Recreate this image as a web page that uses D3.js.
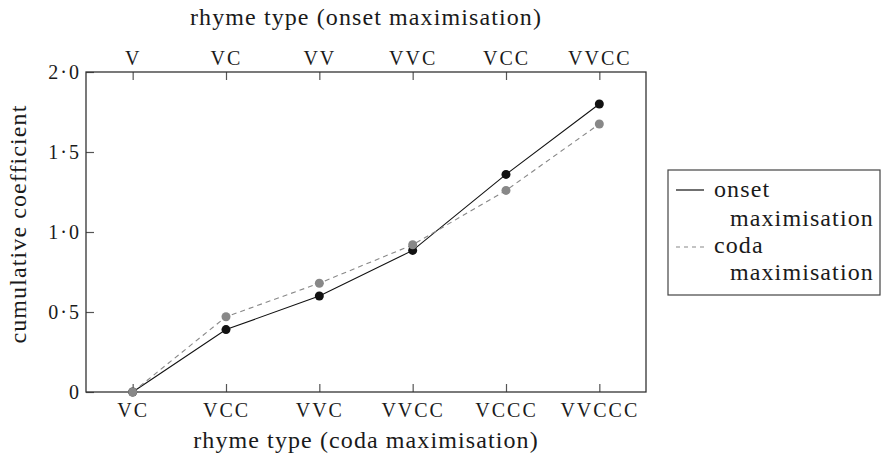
<!DOCTYPE html>
<html>
<head>
<meta charset="utf-8">
<title>Cumulative coefficient by rhyme type</title>
<script src="https://cdn.jsdelivr.net/npm/d3@7"></script>
<style>
  body { margin: 0; background: #fff; }
</style>
</head>
<body>
<div id="chart"></div>
<script>
// categories (bottom = coda maximisation, top = onset maximisation)
const codaTypes = ['VC', 'VCC', 'VVC', 'VVCC', 'VCCC', 'VVCCC'];
const onsetTypes = ['V', 'VC', 'VV', 'VVC', 'VCC', 'VVCC'];

// cumulative coefficients
const onsetValues = [0, 0.39, 0.60, 0.885, 1.36, 1.80];
const codaValues = [0, 0.47, 0.68, 0.92, 1.26, 1.675];

const yTicks = [0, 0.5, 1, 1.5, 2];
const yTickLabels = ['0', '0·5', '1·0', '1·5', '2·0'];

const W = 885, H = 464;
const margin = { top: 72, right: 239, bottom: 72, left: 86 };
const width = W - margin.left - margin.right,
      height = H - margin.top - margin.bottom;
const serif = "'Liberation Serif'";

const svg = d3.select('#chart').append('svg')
    .attr('width', W)
    .attr('height', H);

const g = svg.append('g')
    .attr('transform', 'translate(' + margin.left + ',' + margin.top + ')');

// both axes share the same positions
const x = d3.scalePoint()
    .domain(d3.range(codaTypes.length))
    .range([0, width])
    .padding(0.5);

const y = d3.scaleLinear()
    .domain([0, 2])
    .range([height, 0]);

// axes, ticks pointing inward
const leftAxis = g.append('g')
    .call(d3.axisLeft(y).tickValues(yTicks)
      .tickFormat((d, i) => yTickLabels[i])
      .tickSizeInner(-8).tickSizeOuter(0).tickPadding(5));

const bottomAxis = g.append('g')
    .attr('transform', 'translate(0,' + height + ')')
    .call(d3.axisBottom(x).tickFormat(i => codaTypes[i])
      .tickSizeInner(-8).tickSizeOuter(0).tickPadding(11));

const topAxis = g.append('g')
    .call(d3.axisTop(x).tickFormat(i => onsetTypes[i])
      .tickSizeInner(-8).tickSizeOuter(0).tickPadding(7));

[leftAxis, bottomAxis, topAxis].forEach(a => {
  a.selectAll('.domain').remove();
  a.selectAll('.tick line').attr('stroke', '#555').attr('stroke-width', 1.2);
  a.selectAll('.tick text')
      .attr('fill', '#1a1a1a')
      .style('font-family', serif)
      .style('font-size', '20px')
      .style('letter-spacing', '2px');
});

// frame
g.append('rect')
    .attr('x', 0).attr('y', 0)
    .attr('width', width).attr('height', height)
    .attr('fill', 'none')
    .attr('stroke', '#333')
    .attr('stroke-width', 1.3);

// lines
const line = d3.line()
    .x((d, i) => x(i))
    .y(d => y(d));

g.append('path')
    .datum(onsetValues)
    .attr('fill', 'none')
    .attr('stroke', '#111')
    .attr('stroke-width', 1.1)
    .attr('d', line);

g.append('path')
    .datum(codaValues)
    .attr('fill', 'none')
    .attr('stroke', '#888')
    .attr('stroke-width', 1.1)
    .attr('stroke-dasharray', '5,4')
    .attr('d', line);

g.append('g').selectAll('circle')
    .data(onsetValues)
  .enter().append('circle')
    .attr('cx', (d, i) => x(i))
    .attr('cy', d => y(d))
    .attr('r', 4.5)
    .attr('fill', '#111');

g.append('g').selectAll('circle')
    .data(codaValues)
  .enter().append('circle')
    .attr('cx', (d, i) => x(i))
    .attr('cy', d => y(d))
    .attr('r', 4.5)
    .attr('fill', '#888');

function bigText(sel) {
  return sel.attr('fill', '#1a1a1a')
      .style('font-family', serif)
      .style('font-size', '24px')
      .style('letter-spacing', '1.1px');
}

// axis titles
svg.append('text')
    .attr('x', margin.left + width / 2)
    .attr('y', 25)
    .attr('text-anchor', 'middle')
    .call(bigText)
    .text('rhyme type (onset maximisation)');

svg.append('text')
    .attr('x', margin.left + width / 2)
    .attr('y', 448)
    .attr('text-anchor', 'middle')
    .call(bigText)
    .text('rhyme type (coda maximisation)');

svg.append('text')
    .attr('transform', 'translate(26,224) rotate(-90)')
    .attr('text-anchor', 'middle')
    .call(bigText)
    .text('cumulative coefficient');

// legend
const legend = svg.append('g')
    .attr('transform', 'translate(668,170)');

legend.append('rect')
    .attr('width', 212).attr('height', 125)
    .attr('fill', '#fff')
    .attr('stroke', '#444')
    .attr('stroke-width', 1.2);

legend.append('line')
    .attr('x1', 8).attr('x2', 36)
    .attr('y1', 20).attr('y2', 20)
    .attr('stroke', '#111').attr('stroke-width', 1.2);

legend.append('line')
    .attr('x1', 8).attr('x2', 36)
    .attr('y1', 77).attr('y2', 77)
    .attr('stroke', '#888').attr('stroke-width', 1.1)
    .attr('stroke-dasharray', '4,4');

legend.append('text').attr('x', 46).attr('y', 27).call(bigText).text('onset');
legend.append('text').attr('x', 62).attr('y', 56).call(bigText).text('maximisation');
legend.append('text').attr('x', 46).attr('y', 83).call(bigText).text('coda');
legend.append('text').attr('x', 62).attr('y', 110).call(bigText).text('maximisation');
</script>
</body>
</html>
